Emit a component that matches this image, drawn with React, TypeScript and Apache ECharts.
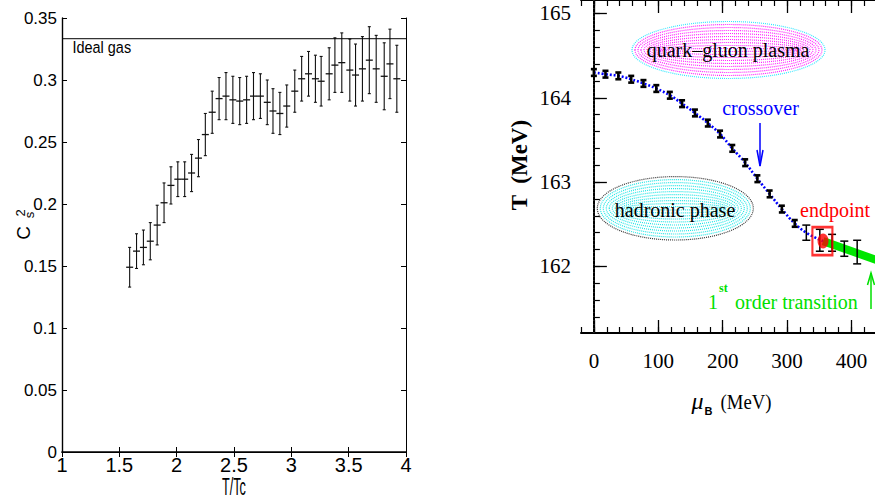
import React, { useEffect, useRef } from "react";
import * as echarts from "echarts";

// ---------- Left panel: c_s^2 vs T/Tc ----------
const tTc = [1.59, 1.65, 1.71, 1.77, 1.83, 1.89, 1.95, 2.01, 2.07, 2.13, 2.19, 2.25, 2.31, 2.37, 2.43, 2.49, 2.55, 2.61, 2.67, 2.73, 2.79, 2.84, 2.9, 2.96, 3.03, 3.09, 3.15, 3.21, 3.26, 3.33, 3.38, 3.44, 3.51, 3.56, 3.62, 3.68, 3.74, 3.81, 3.86, 3.92];
const cs2 = [0.149, 0.162, 0.165, 0.17, 0.183, 0.201, 0.215, 0.22, 0.22, 0.225, 0.237, 0.256, 0.274, 0.285, 0.287, 0.284, 0.283, 0.284, 0.287, 0.287, 0.282, 0.275, 0.273, 0.279, 0.291, 0.301, 0.305, 0.301, 0.299, 0.305, 0.312, 0.314, 0.308, 0.304, 0.309, 0.316, 0.309, 0.303, 0.313, 0.301];
const cs2Err = [0.016, 0.014, 0.014, 0.015, 0.016, 0.016, 0.015, 0.014, 0.014, 0.015, 0.015, 0.017, 0.017, 0.017, 0.019, 0.019, 0.019, 0.019, 0.019, 0.018, 0.018, 0.018, 0.017, 0.017, 0.017, 0.018, 0.018, 0.019, 0.02, 0.021, 0.022, 0.024, 0.025, 0.025, 0.026, 0.027, 0.027, 0.027, 0.028, 0.027];
const idealGas = 0.3333;

// ---------- Right panel: T vs mu_B ----------
const muCross = [0, 18, 38, 58, 77, 97, 118, 137, 157, 177, 196, 215, 235, 254, 273, 292, 312];
const tCross = [164.3, 164.28, 164.26, 164.22, 164.17, 164.11, 164.03, 163.93, 163.82, 163.7, 163.57, 163.4, 163.23, 163.04, 162.86, 162.68, 162.51];
const errCross = [0.04, 0.04, 0.04, 0.04, 0.04, 0.04, 0.04, 0.04, 0.04, 0.04, 0.04, 0.04, 0.04, 0.04, 0.04, 0.04, 0.04];
const muThin = [330, 351, 370, 389, 409];
const tThin = [162.4, 162.31, 162.28, 162.21, 162.17];
const errThin = [0.09, 0.13, 0.1, 0.09, 0.14];
const endpointMu = 356;
const endpointT = 162.3;
const firstOrderMu = [356, 460];
const firstOrderT = [162.3, 162.02];
const muMajorTicks = [0, 100, 200, 300, 400];
const muMinorTicks = [-20, 0, 20, 40, 60, 80, 100, 120, 140, 160, 180, 200, 220, 240, 260, 280, 300, 320, 340, 360, 380, 400, 420, 440, 460];
const tMajorTicks = [162, 163, 164, 165];
const tMinorTicks = [161.4, 161.6, 161.8, 162, 162.2, 162.4, 162.6, 162.8, 163, 163.2, 163.4, 163.6, 163.8, 164, 164.2, 164.4, 164.6, 164.8, 165];

const SANS = "'Liberation Sans', Arial, sans-serif";
const SERIF = "'Liberation Serif', 'Times New Roman', serif";

function errBar(capHalf: number, midHalf: number, lw: number, color: string) {
  return (params: any, api: any) => {
    const x = api.value(0), y = api.value(1), e = api.value(2);
    const top = api.coord([x, y + e]);
    const bot = api.coord([x, y - e]);
    const mid = api.coord([x, y]);
    const st = { stroke: color, lineWidth: lw };
    const children: any[] = [
      { type: "line", shape: { x1: top[0], y1: top[1], x2: bot[0], y2: bot[1] }, style: st },
      { type: "line", shape: { x1: top[0] - capHalf, y1: top[1], x2: top[0] + capHalf, y2: top[1] }, style: st },
      { type: "line", shape: { x1: bot[0] - capHalf, y1: bot[1], x2: bot[0] + capHalf, y2: bot[1] }, style: st },
    ];
    if (midHalf > 0) {
      children.push({ type: "line", shape: { x1: mid[0] - midHalf, y1: mid[1], x2: mid[0] + midHalf, y2: mid[1] }, style: { stroke: color, lineWidth: 1.3 } });
    }
    return { type: "group", children };
  };
}

function rings(cx: number, cy: number, rx: number, ry: number, step: number, color: string, outer: string) {
  const els: any[] = [];
  for (let k = 0; k < 40; k++) {
    const a = rx - k * step;
    const b = ry - k * step;
    if (b < 1 || a < 1) break;
    els.push({
      type: "ellipse",
      silent: true,
      z: 1,
      shape: { cx, cy, rx: a, ry: b },
      style: { fill: "transparent", stroke: k === 0 ? outer : color, lineWidth: 1.2, lineDash: [1, 1] },
    });
  }
  return els;
}

export default function App() {
  const ref = useRef<HTMLDivElement>(null);
  useEffect(() => {
    if (!ref.current) return;
    const chart = echarts.init(ref.current, null, { renderer: "svg" });
    const black = "#000";
    const leftAxisCommon = { type: "value", gridIndex: 0, splitLine: { show: false } };
    const option: any = {
      animation: false,
      backgroundColor: "#fff",
      grid: [
        { left: 62, top: 18, width: 344, height: 434, outerBoundsMode: "none", containLabel: false },
        { left: 581, top: 0, width: 309, height: 333, outerBoundsMode: "none", containLabel: false },
      ],
      xAxis: [
        {
          ...leftAxisCommon, min: 1, max: 4, interval: 0.5, position: "bottom",
          axisLine: { lineStyle: { color: black, width: 1.6 } },
          axisTick: { inside: true, length: 5, lineStyle: { color: black } },
          axisLabel: { color: black, fontSize: 20, fontFamily: SANS, margin: 3 },
        },
        {
          ...leftAxisCommon, min: 1, max: 4, interval: 0.5, position: "top",
          axisLine: { lineStyle: { color: black, width: 1 } },
          axisTick: { inside: true, length: 5, lineStyle: { color: black } },
          axisLabel: { show: false },
        },
        {
          type: "value", gridIndex: 1, min: -20, max: 460, position: "bottom", splitLine: { show: false },
          axisLine: { lineStyle: { color: black, width: 2 } },
          axisTick: { inside: true, length: 13, customValues: muMajorTicks, lineStyle: { color: black, width: 1.3 } },
          axisLabel: { customValues: muMajorTicks, color: black, fontSize: 21, fontFamily: SERIF, margin: 17 },
        },
        {
          type: "value", gridIndex: 1, min: -20, max: 460, position: "bottom", splitLine: { show: false },
          axisLine: { show: false },
          axisTick: { inside: true, length: 6, customValues: muMinorTicks, lineStyle: { color: black, width: 1.2 } },
          axisLabel: { show: false },
        },
        {
          type: "value", gridIndex: 1, min: -20, max: 460, position: "top", splitLine: { show: false },
          axisLine: { lineStyle: { color: black, width: 2 } },
          axisTick: { inside: true, length: 13, customValues: muMajorTicks, lineStyle: { color: black, width: 1.3 } },
          axisLabel: { show: false },
        },
        {
          type: "value", gridIndex: 1, min: -20, max: 460, position: "top", splitLine: { show: false },
          axisLine: { show: false },
          axisTick: { inside: true, length: 6, customValues: muMinorTicks, lineStyle: { color: black, width: 1.2 } },
          axisLabel: { show: false },
        },
      ],
      yAxis: [
        {
          ...leftAxisCommon, min: 0, max: 0.35, interval: 0.05, position: "left",
          axisLine: { lineStyle: { color: black, width: 1.4 } },
          axisTick: { inside: true, length: 5, lineStyle: { color: black } },
          axisLabel: { color: black, fontSize: 17, fontFamily: SANS, margin: 5 },
        },
        {
          ...leftAxisCommon, min: 0, max: 0.35, interval: 0.05, position: "right",
          axisLine: { lineStyle: { color: black, width: 1 } },
          axisTick: { inside: true, length: 5, lineStyle: { color: black } },
          axisLabel: { show: false },
        },
        {
          type: "value", gridIndex: 1, min: 161.21, max: 165.16, position: "left", splitLine: { show: false },
          axisLine: { lineStyle: { color: black, width: 2 } },
          axisTick: { inside: true, length: 13, customValues: tMajorTicks, lineStyle: { color: black, width: 1.3 } },
          axisLabel: { customValues: tMajorTicks, color: black, fontSize: 21, fontFamily: SERIF, margin: 10 },
        },
        {
          type: "value", gridIndex: 1, min: 161.21, max: 165.16, position: "left", splitLine: { show: false },
          axisLine: { show: false },
          axisTick: { inside: true, length: 6, customValues: tMinorTicks, lineStyle: { color: black, width: 1.2 } },
          axisLabel: { show: false },
        },
      ],
      series: [
        {
          type: "line", xAxisIndex: 0, yAxisIndex: 0, symbol: "none",
          data: [[1, idealGas], [4, idealGas]],
          lineStyle: { color: black, width: 1 },
        },
        {
          type: "custom", xAxisIndex: 0, yAxisIndex: 0,
          data: tTc.map((x, i) => [x, cs2[i], cs2Err[i]]),
          renderItem: errBar(1.5, 3.5, 1.1, "#111"),
        },
        {
          type: "line", xAxisIndex: 2, yAxisIndex: 2, symbol: "none",
          data: [[0, 161.21], [0, 165.16]],
          lineStyle: { color: "#444", width: 1, type: [1, 3] },
        },
        {
          type: "line", xAxisIndex: 2, yAxisIndex: 2, symbol: "none", z: 2,
          data: firstOrderMu.map((m, i) => [m, firstOrderT[i]]),
          lineStyle: { color: "#00e600", width: 8 },
        },
        {
          type: "line", xAxisIndex: 2, yAxisIndex: 2, symbol: "none", z: 3, smooth: true,
          data: muCross.map((m, i) => [m, tCross[i]]).concat([[muThin[0], tThin[0]], [endpointMu, endpointT]]),
          lineStyle: { color: "#0000ff", width: 2.6, type: [2, 2] },
        },
        {
          type: "custom", xAxisIndex: 2, yAxisIndex: 2, z: 4,
          data: muCross.map((m, i) => [m, tCross[i], errCross[i]]),
          renderItem: errBar(3, 0, 2.6, "#000"),
        },
        {
          type: "custom", xAxisIndex: 2, yAxisIndex: 2, z: 4,
          data: muThin.map((m, i) => [m, tThin[i], errThin[i]]),
          renderItem: errBar(4, 0, 1.5, "#000"),
        },
        {
          type: "scatter", xAxisIndex: 2, yAxisIndex: 2, z: 5,
          data: [[endpointMu, endpointT]],
          symbol: "circle", symbolSize: [11, 15],
          itemStyle: { color: "#ff0000" },
        },
        {
          type: "scatter", xAxisIndex: 2, yAxisIndex: 2, z: 6,
          data: [[endpointMu - 1, endpointT]],
          symbol: "rect", symbolSize: [20, 28],
          itemStyle: { color: "transparent", borderColor: "#ff0000", borderWidth: 2.5 },
        },
      ],
      graphic: [
        ...rings(728.5, 50, 96.5, 28.5, 3, "#ff22ff", "#33e6ff"),
        ...rings(675.3, 208.3, 78, 31.7, 3, "#22e6e6", "#333"),
        { type: "text", z: 10, x: 728, y: 50, style: { text: "quark–gluon plasma", font: `20px ${SERIF}`, fill: "#000", align: "center", verticalAlign: "middle" } },
        { type: "text", z: 10, x: 675, y: 210, style: { text: "hadronic phase", font: `20px ${SERIF}`, fill: "#000", align: "center", verticalAlign: "middle" } },
        { type: "text", z: 10, x: 760.5, y: 108, style: { text: "crossover", font: `20px ${SERIF}`, fill: "#0000ff", align: "center", verticalAlign: "middle" } },
        { type: "line", z: 10, shape: { x1: 760, y1: 123, x2: 760, y2: 166 }, style: { stroke: "#0000ff", lineWidth: 1.5 } },
        { type: "polyline", z: 10, shape: { points: [[757, 150], [760, 166], [763, 150]] }, style: { stroke: "#0000ff", lineWidth: 1.5, fill: "none" } },
        { type: "text", z: 10, x: 835, y: 210, style: { text: "endpoint", font: `20px ${SERIF}`, fill: "#ff0000", align: "center", verticalAlign: "middle" } },
        { type: "text", z: 10, x: 718, y: 302, style: { text: "1", font: `20px ${SERIF}`, fill: "#00e000", align: "right", verticalAlign: "middle" } },
        { type: "text", z: 10, x: 719, y: 288, style: { text: "st", font: `bold 12px ${SERIF}`, fill: "#00e000", align: "left", verticalAlign: "middle" } },
        { type: "text", z: 10, x: 735, y: 302, style: { text: "order transition", font: `20px ${SERIF}`, fill: "#00e000", align: "left", verticalAlign: "middle" } },
        { type: "line", z: 10, shape: { x1: 871, y1: 309, x2: 871, y2: 273 }, style: { stroke: "#00e000", lineWidth: 1.5 } },
        { type: "polyline", z: 10, shape: { points: [[867.5, 285], [871, 273], [874.5, 285]] }, style: { stroke: "#00e000", lineWidth: 1.5, fill: "none" } },
        // axis titles
        { type: "text", z: 10, x: 519.5, y: 165, rotation: Math.PI / 2, style: { text: "T  (MeV)", font: `bold 23px ${SERIF}`, fill: "#000", align: "center", verticalAlign: "middle" } },
        { type: "text", z: 10, x: 697.5, y: 401, style: { text: "μ", font: `italic 24px ${SERIF}`, fill: "#000", align: "center", verticalAlign: "middle" } },
        { type: "text", z: 10, x: 708.5, y: 410.5, style: { text: "B", font: `bold 11px ${SANS}`, fill: "#000", align: "center", verticalAlign: "middle" } },
        { type: "text", z: 10, x: 746, y: 401, scaleX: 0.85, style: { text: "(MeV)", font: `22px ${SERIF}`, fill: "#000", align: "center", verticalAlign: "middle" } },
        { type: "text", z: 10, x: 234, y: 487, scaleX: 0.55, style: { text: "T/Tc", font: `23px ${SANS}`, fill: "#000", align: "center", verticalAlign: "middle" } },
        { type: "text", z: 10, x: 72.5, y: 47, scaleX: 0.85, style: { text: "Ideal gas", font: `17px ${SANS}`, fill: "#000", align: "left", verticalAlign: "middle" } },
        { type: "text", z: 10, x: 23, y: 233, rotation: Math.PI / 2, style: { text: "C", font: `19px ${SANS}`, fill: "#000", align: "center", verticalAlign: "middle" } },
        { type: "text", z: 10, x: 20.5, y: 213, rotation: Math.PI / 2, style: { text: "2", font: `13px ${SANS}`, fill: "#000", align: "center", verticalAlign: "middle" } },
        { type: "text", z: 10, x: 29.5, y: 215, rotation: Math.PI / 2, style: { text: "s", font: `13px ${SANS}`, fill: "#000", align: "center", verticalAlign: "middle" } },
      ],
    };
    chart.setOption(option);
    return () => chart.dispose();
  }, []);
  return <div ref={ref} style={{ position: "fixed", left: 0, top: 0, width: 875, height: 504, background: "#fff" }} />;
}
